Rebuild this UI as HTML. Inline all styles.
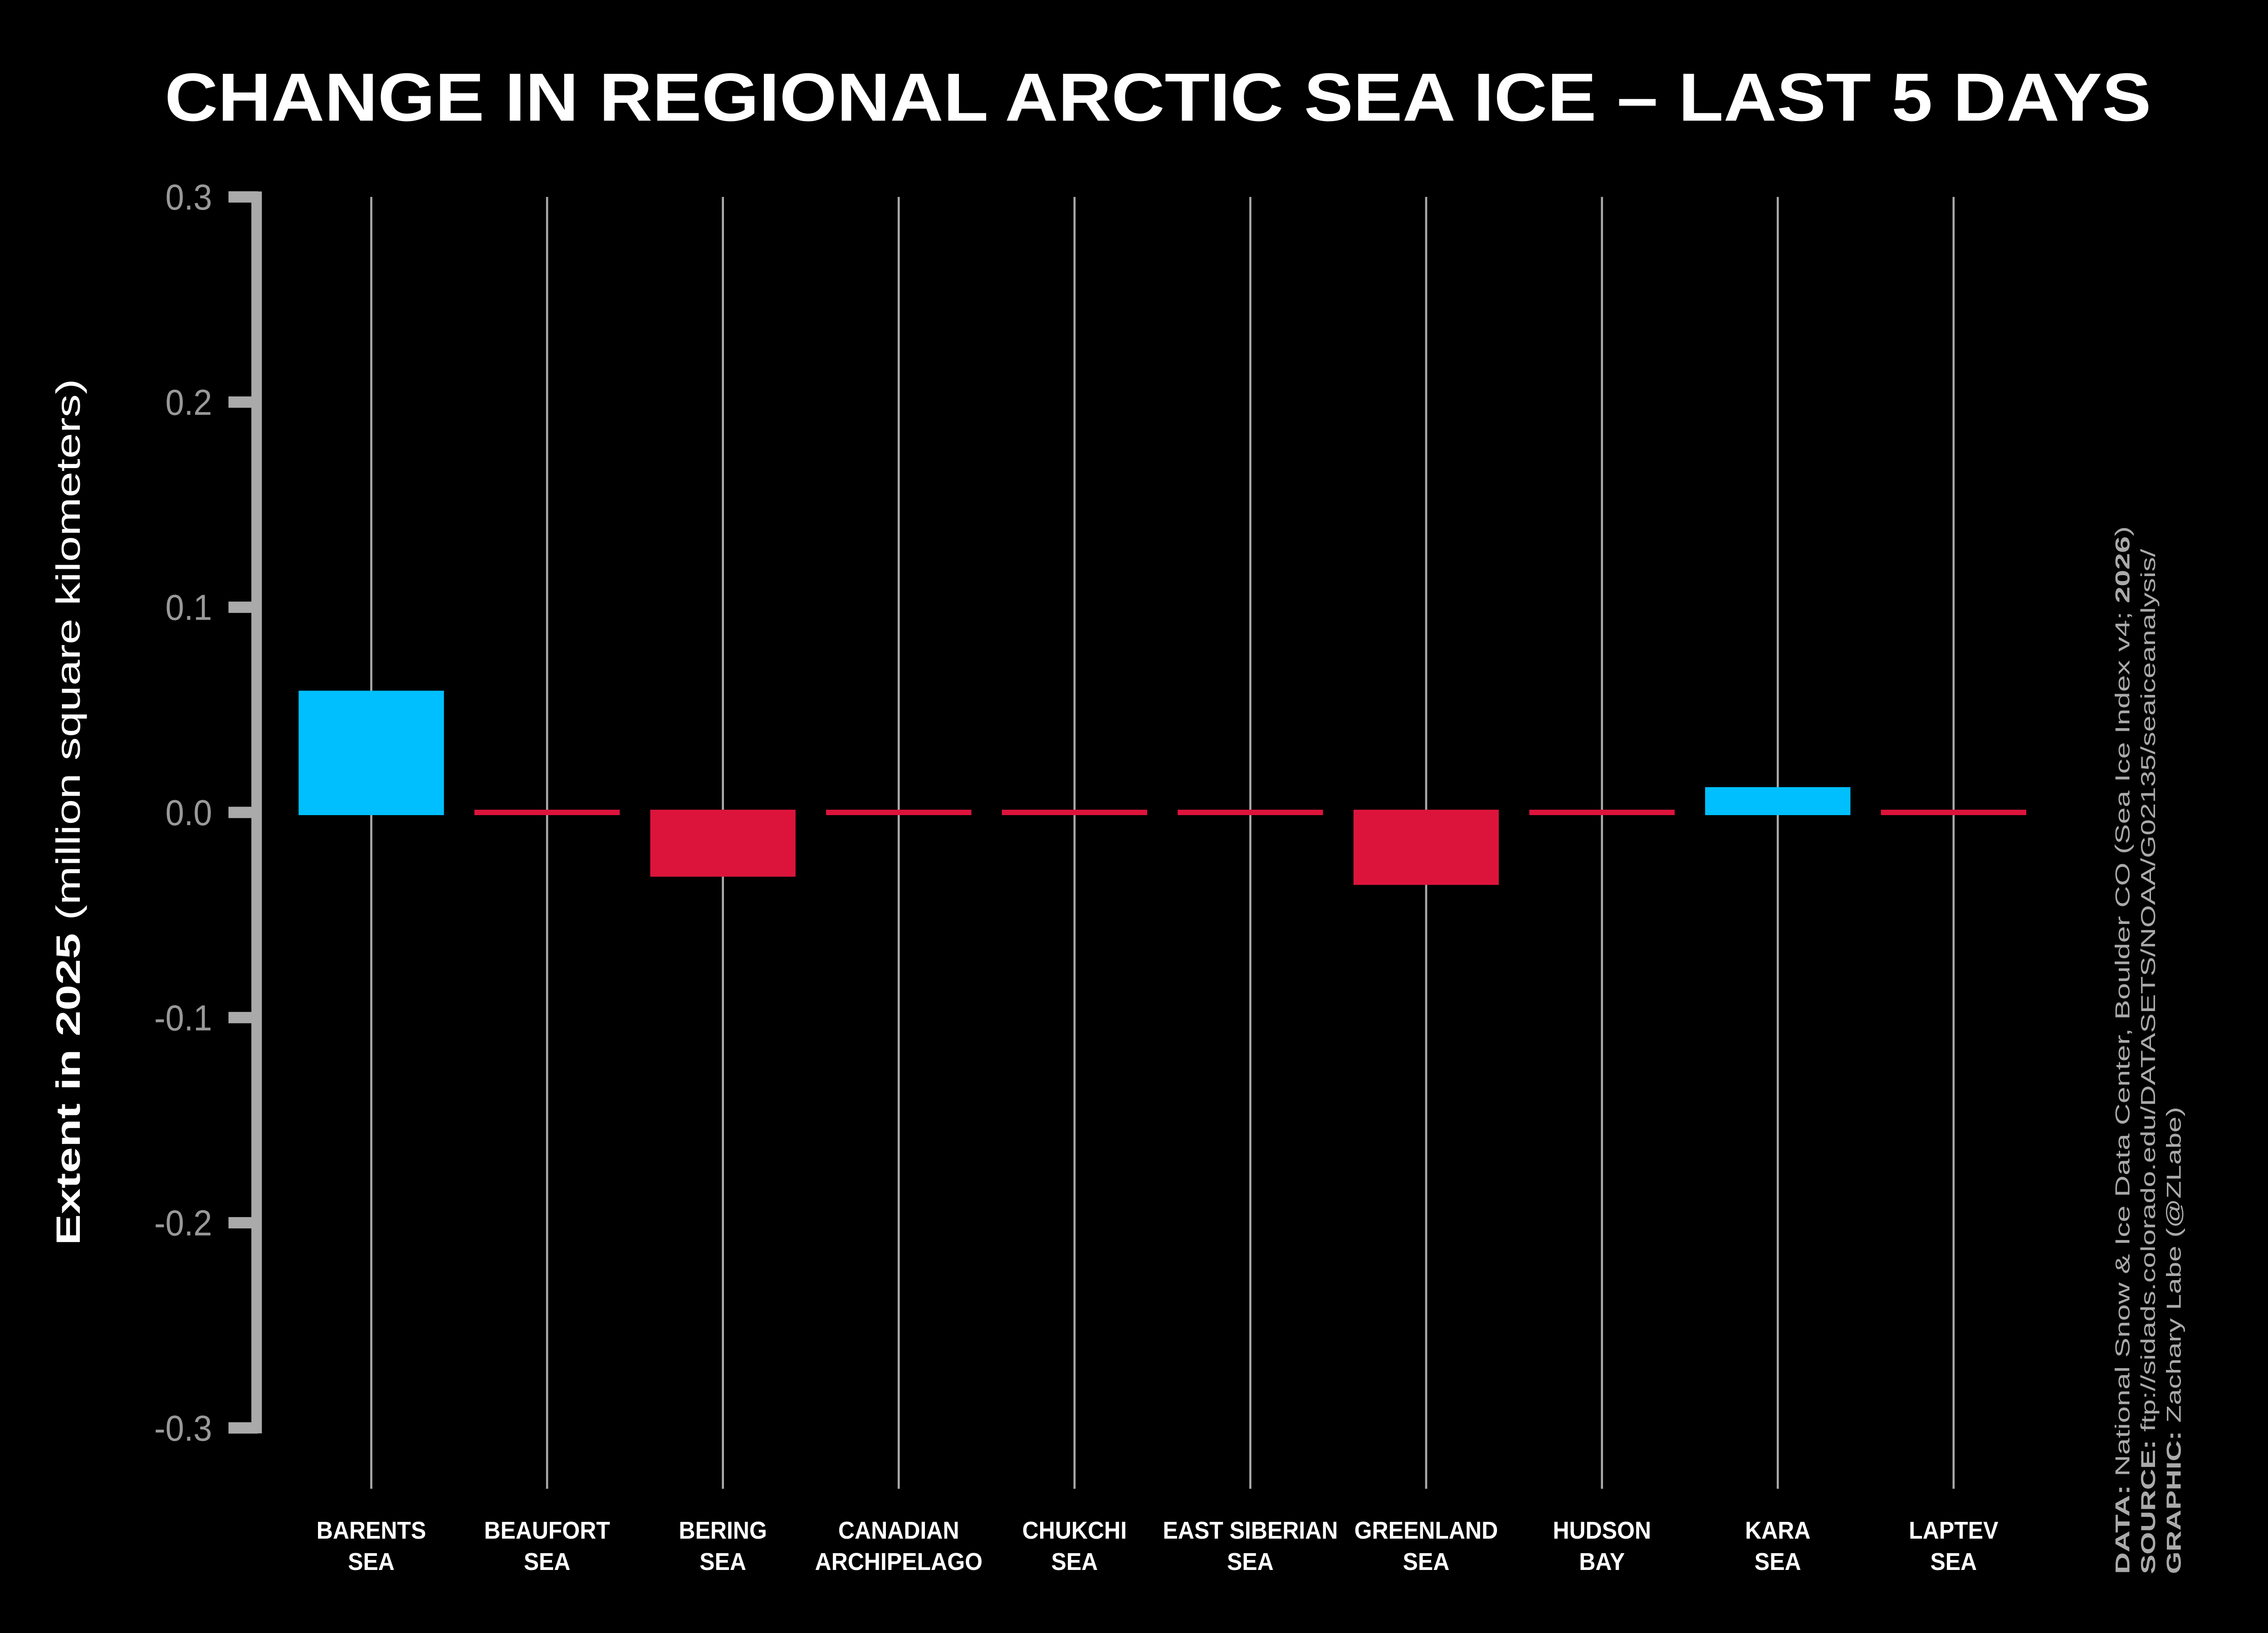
<!DOCTYPE html>
<html><head><meta charset="utf-8"><style>
html,body{margin:0;padding:0;background:#000;width:100vw;height:100vh;overflow:hidden;}
svg{display:block;position:absolute;left:0;top:0;width:100vw;height:100vh;overflow:hidden;}
text{font-family:"Liberation Sans",sans-serif;}
</style></head><body>
<svg id="chart" viewBox="0 0 5400 3600" preserveAspectRatio="none" xmlns="http://www.w3.org/2000/svg">
<rect width="5400" height="3600" fill="#000"/>
<text x="2757" y="266" text-anchor="middle" font-size="150" font-weight="bold" fill="#fff" textLength="4730" lengthAdjust="spacingAndGlyphs">CHANGE IN REGIONAL ARCTIC SEA ICE – LAST 5 DAYS</text>
<g id="grid"></g>
<g id="bars"></g>
<g id="yaxis"></g>
<g id="xlabels"></g>
<text transform="translate(190,1790) rotate(-90)" text-anchor="middle" font-size="80" fill="#fff" textLength="1910" lengthAdjust="spacingAndGlyphs"><tspan font-weight="bold">Extent in 2025</tspan> (million square kilometers)</text>
<g fill="#aaa" font-size="48">
<text transform="translate(5070,3470) rotate(-90)" textLength="2310" lengthAdjust="spacingAndGlyphs"><tspan font-weight="bold">DATA:</tspan> National Snow &amp; Ice Data Center, Boulder CO (Sea Ice Index v4; <tspan font-weight="bold">2026</tspan>)</text>
<text transform="translate(5131,3470) rotate(-90)" textLength="2260" lengthAdjust="spacingAndGlyphs"><tspan font-weight="bold">SOURCE:</tspan> ftp://sidads.colorado.edu/DATASETS/NOAA/G02135/seaiceanalysis/</text>
<text transform="translate(5192,3470) rotate(-90)" textLength="1030" lengthAdjust="spacingAndGlyphs"><tspan font-weight="bold">GRAPHIC:</tspan> Zachary Labe (@ZLabe)</text>
</g>
</svg>
<script>
const categories = [["BARENTS","SEA"],["BEAUFORT","SEA"],["BERING","SEA"],["CANADIAN","ARCHIPELAGO"],["CHUKCHI","SEA"],["EAST SIBERIAN","SEA"],["GREENLAND","SEA"],["HUDSON","BAY"],["KARA","SEA"],["LAPTEV","SEA"]];
const values = [0.058, 0.0, -0.030, 0.0, 0.0, 0.0, -0.034, 0.0, 0.011, 0.0];
const yTicks = [0.3, 0.2, 0.1, 0.0, -0.1, -0.2, -0.3];
const yTickLabels = ["0.3","0.2","0.1","0.0","-0.1","-0.2","-0.3"];

const NS = "http://www.w3.org/2000/svg";
function y(v){ return 1791 - v * 4523; }
function x(i){ return 884 + i * 418.6; }
function mk(tag, attrs, parent){ const e=document.createElementNS(NS,tag); for(const k in attrs) e.setAttribute(k,attrs[k]); parent.appendChild(e); return e; }

const grid=document.getElementById('grid'), bars=document.getElementById('bars'), yaxis=document.getElementById('yaxis'), xl=document.getElementById('xlabels');
categories.forEach((c,i)=>{
  const g=mk('line',{x1:x(i),x2:x(i),y1:y(0.3),y2:3282,stroke:'#aaa','stroke-width':5},grid);
  
  
  const v=values[i];
  const top=Math.min(y(v),y(0)), h=Math.abs(y(v)-y(0));
  const col = v>0 ? '#00bfff' : '#dc143c';
  const b=mk('rect',{x:x(i)-173,y:top-6,width:346,height:h+12,fill:col},bars);
  
  
  const t=mk('text',{x:x(i),y:3392,'text-anchor':'middle','font-size':54,'font-weight':'bold',fill:'#fff'},xl);
  
  
  const s1=mk('tspan',{x:x(i),y:3392},t); s1.textContent=c[0];
  const s2=mk('tspan',{x:x(i),y:3461},t); s2.textContent=c[1];
});
const ax=mk('line',{x1:611,x2:611,y1:y(0.3)-12,y2:y(-0.3)+12,stroke:'#aaa','stroke-width':25},yaxis);


yTicks.forEach((v,i)=>{
  const tk=mk('rect',{x:544,y:y(v)-12.5,width:70,height:25,fill:'#aaa'},yaxis);
  
  
  const lb=mk('text',{x:505,y:y(v)+28,'text-anchor':'end','font-size':80,fill:'#999'},yaxis);
  
  
  lb.textContent=yTickLabels[i];
});
</script>
</body></html>
